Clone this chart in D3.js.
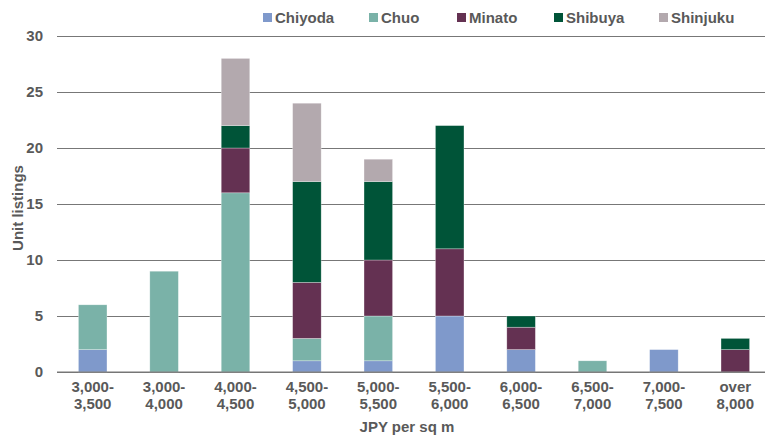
<!DOCTYPE html>
<html>
<head>
<meta charset="utf-8">
<script src="https://cdn.jsdelivr.net/npm/d3@7"></script>
<style>
  body { margin: 0; background: #fff; }
  svg text { font-family: "Liberation Sans", Arial, sans-serif; font-weight: bold; fill: #595959; }
</style>
</head>
<body>
<div id="chart"></div>
<script>
// data
var categories = ["3,000-|3,500", "3,000-|4,000", "4,000-|4,500", "4,500-|5,000", "5,000-|5,500",
                  "5,500-|6,000", "6,000-|6,500", "6,500-|7,000", "7,000-|7,500", "over|8,000"];
var districts = ["Chiyoda", "Chuo", "Minato", "Shibuya", "Shinjuku"];
var chiyoda  = [2, 0, 0, 1, 1, 5, 2, 0, 2, 0];
var chuo     = [4, 9, 16, 2, 4, 0, 0, 1, 0, 0];
var minato   = [0, 0, 4, 5, 5, 6, 2, 0, 0, 2];
var shibuya  = [0, 0, 2, 9, 7, 11, 1, 0, 0, 1];
var shinjuku = [0, 0, 6, 7, 2, 0, 0, 0, 0, 0];
var yTicks = [0, 5, 10, 15, 20, 25, 30];
var colors = ["#7f99cb", "#7ab2a8", "#643152", "#005438", "#b3a9ae"];

var width = 765, height = 439;
var margin = {top: 36, right: -6, bottom: 67, left: 57};

var svg = d3.select("#chart")
  .append("svg")
    .attr("width", width)
    .attr("height", height);

var table = categories.map(function(c, i) {
  return {cat: c, Chiyoda: chiyoda[i], Chuo: chuo[i], Minato: minato[i], Shibuya: shibuya[i], Shinjuku: shinjuku[i]};
});
var series = d3.stack().keys(districts)(table);

var x = d3.scaleBand()
  .domain(categories)
  .range([margin.left, width - margin.right])
  .paddingInner(0.6)
  .paddingOuter(0.3);

var y = d3.scaleLinear()
  .domain([0, 30])
  .range([height - margin.bottom, margin.top]);

var color = d3.scaleOrdinal().domain(districts).range(colors);

// gridlines + y labels
var yAxis = svg.append("g")
  .attr("transform", "translate(" + margin.left + ",0)")
  .call(d3.axisLeft(y).tickValues(yTicks).tickSize(-(765 - margin.left)).tickPadding(14));
yAxis.select(".domain").remove();
yAxis.selectAll("line").attr("stroke", "#777").attr("stroke-width", 1);
yAxis.selectAll("text").style("font-size", "15px").attr("fill", "#595959")
  .style("font-family", "Liberation Sans, Arial, sans-serif").style("font-weight", "bold");

// bars
svg.append("g")
  .selectAll("g")
  .data(series)
  .join("g")
    .attr("fill", function(d) { return color(d.key); })
  .selectAll("rect")
  .data(function(d) { return d; })
  .join("rect")
    .attr("x", function(d) { return x(d.data.cat); })
    .attr("y", function(d) { return y(d[1]); })
    .attr("height", function(d) { return y(d[0]) - y(d[1]); })
    .attr("width", x.bandwidth())
    .attr("stroke", "#fff")
    .attr("stroke-opacity", 0.5)
    .attr("stroke-width", function(d) { return d[1] > d[0] ? 0.6 : 0; });

// baseline drawn over the bars
svg.append("line")
  .attr("x1", margin.left).attr("x2", 765)
  .attr("y1", y(0)).attr("y2", y(0))
  .attr("stroke", "#777").attr("stroke-width", 1);

// x labels, two lines each
var xl = svg.append("g").selectAll("text")
  .data(categories)
  .join("text")
    .attr("text-anchor", "middle")
    .style("font-size", "15px")
    .attr("x", function(d) { return x(d) + x.bandwidth() / 2; })
    .attr("y", 392);
xl.append("tspan")
  .attr("x", function(d) { return x(d) + x.bandwidth() / 2; })
  .text(function(d) { return d.split("|")[0]; });
xl.append("tspan")
  .attr("x", function(d) { return x(d) + x.bandwidth() / 2; })
  .attr("dy", 17)
  .text(function(d) { return d.split("|")[1]; });

// axis titles
svg.append("text")
  .attr("x", 407).attr("y", 432)
  .attr("text-anchor", "middle")
  .style("font-size", "15px")
  .text("JPY per sq m");

svg.append("text")
  .attr("transform", "translate(23,208) rotate(-90)")
  .attr("text-anchor", "middle")
  .style("font-size", "15px")
  .text("Unit listings");

// legend
var legendX = [263, 369, 457, 554, 659];
var legend = svg.append("g").selectAll("g")
  .data(districts)
  .join("g")
    .attr("transform", function(d, i) { return "translate(" + legendX[i] + ",13)"; });
legend.append("rect")
  .attr("width", 9).attr("height", 9)
  .attr("fill", function(d) { return color(d); });
legend.append("text")
  .attr("x", 12).attr("y", 9.5)
  .style("font-size", "15px")
  .text(function(d) { return d; });
</script>
</body>
</html>
